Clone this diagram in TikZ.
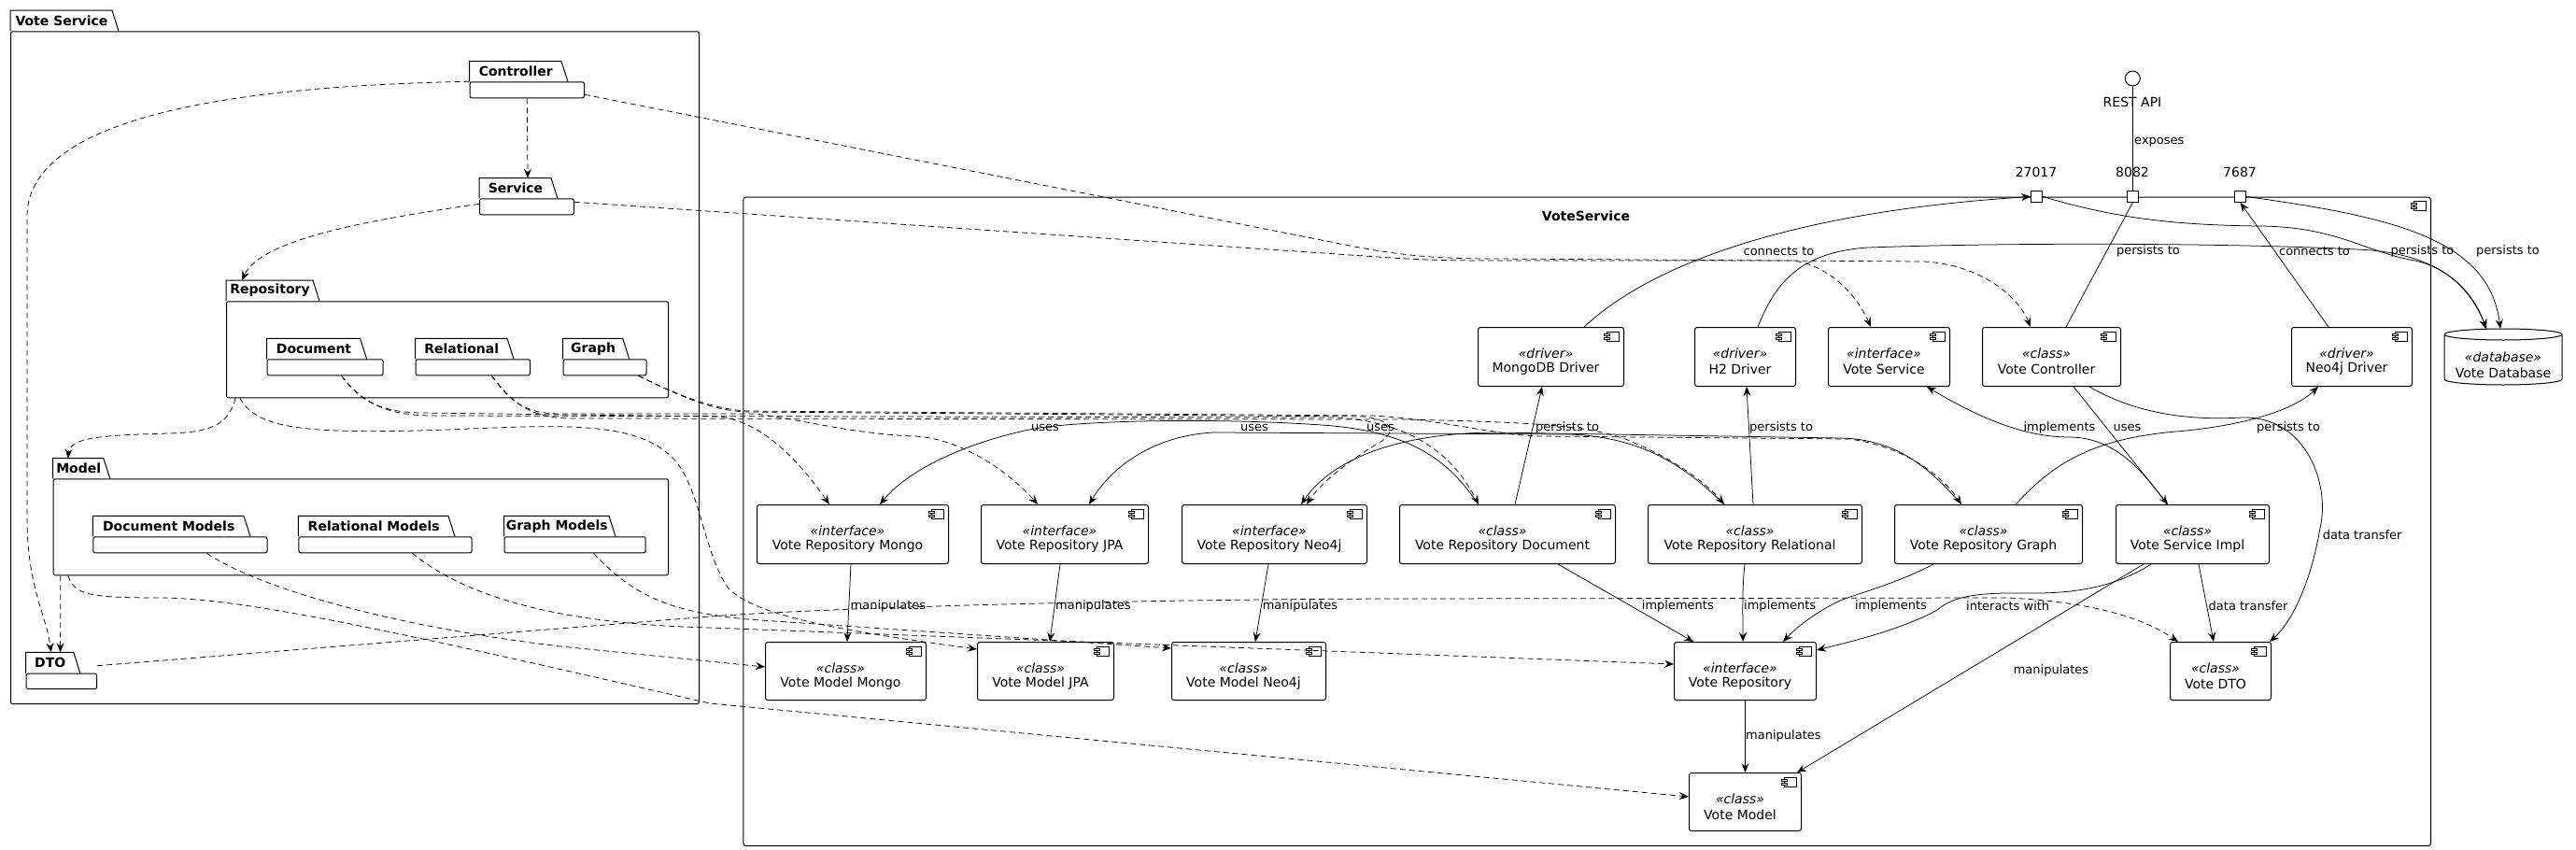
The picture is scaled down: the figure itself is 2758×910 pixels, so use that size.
\documentclass[tikz,border=0pt]{standalone}
\usepackage{fontspec}
\setmainfont{DejaVu Sans}
\usetikzlibrary{arrows.meta}
\tikzset{
  compbox/.style={draw, line width=1pt, rounded corners=2.5pt, inner sep=0pt},
  pkgbox/.style={draw, line width=1pt, rounded corners=2pt, inner sep=0pt},
  pkgtab/.style={line width=1pt},
  pkgtitle/.style={font=\fontsize{14pt}{16pt}\selectfont\bfseries, inner sep=0pt},
  stereo/.style={font=\fontsize{14pt}{16pt}\selectfont\itshape, inner sep=0pt},
  cname/.style={font=\fontsize{14pt}{16pt}\selectfont, inner sep=0pt},
  elabel/.style={font=\fontsize{13pt}{15pt}\selectfont, inner sep=0pt},
  conn/.style={line width=0.75pt, -{Stealth[length=10pt,width=8pt,inset=3.5pt]}},
  lineonly/.style={line width=0.75pt},
  depline/.style={conn, dash pattern=on 6pt off 4pt},
  portbox/.style={draw, fill=white, line width=1pt, minimum size=12pt, inner sep=0pt},
  iconshape/.style={draw, line width=0.75pt, fill=white},
}
\newcommand\UMLicon[2]{%
  \draw[iconshape] ({#1-18},{#2+5}) rectangle ({#1-5},{#2+15});
  \draw[iconshape] ({#1-21},{#2+7}) rectangle ({#1-15},{#2+9});
  \draw[iconshape] ({#1-21},{#2+11}) rectangle ({#1-15},{#2+13});
}
\newcommand\UMLcomp[7]{%
  \node[compbox, minimum width={(#4-#2)*1pt}, minimum height={(#5-#3)*1pt}, anchor=north west] (#1) at (#2,#3) {};
  \node[stereo] at ({(#2+#4)/2-5},{#3+28}) {«#6»};
  \node[cname] at ({(#2+#4)/2-5},{#3+45}) {#7};
  \UMLicon{#4}{#3}
}
\newcommand\UMLpkg[8]{%
  \draw[pkgtab] (#2,#5) |- ({#4-7},#3) -- (#4,#5);
  \coordinate (#1-tab) at (#2,#3);
  \node[pkgbox, minimum width={(#6-#2)*1pt}, minimum height={(#7-#5)*1pt}, anchor=north west] (#1) at (#2,#5) {};
  \node[pkgtitle] at ({(#2+#4)/2-3},{(#3+#5)/2}) {#8};
}
\begin{document}
\begin{tikzpicture}[x=1pt, y=-1pt]
\useasboundingbox (0,0) rectangle (2758,910);
\fill[white] (0,0) rectangle (2758,910);

% ---------- left package ----------
\UMLpkg{vsp}{11}{11}{127}{33.3}{748}{753}{Vote Service}
\UMLpkg{ctrl}{502.6}{65.7}{608}{87.3}{625}{104.3}{Controller}
\UMLpkg{svc}{513}{190.7}{597}{212.3}{614}{229.3}{Service}
\UMLpkg{repo}{242}{300}{342}{322.3}{715}{425.3}{Repository}
\UMLpkg{doc}{285.5}{362.3}{392.6}{384.3}{409.6}{401.3}{Document}
\UMLpkg{rel}{444.5}{362.3}{550}{384.3}{567}{401.3}{Relational}
\UMLpkg{gra}{602.5}{362.3}{673.7}{384.3}{691.6}{401.3}{Graph}
\UMLpkg{model}{56.7}{490.7}{117.8}{512.3}{715}{615.3}{Model}
\UMLpkg{docm}{99.4}{552.3}{268}{574.3}{285.5}{591.3}{Document Models}
\UMLpkg{relm}{319.4}{552.3}{487}{574.3}{504.6}{591.3}{Relational Models}
\UMLpkg{gram}{539.5}{552.3}{659}{574.3}{690.7}{591.3}{Graph Models}
\UMLpkg{dto}{27.6}{698.3}{85.8}{720.7}{103.2}{737}{DTO}

% ---------- VoteService component ----------
\node[compbox, minimum width=1806.6pt, minimum height=694.3pt, anchor=north west] (vsc) at (795.4,210.7) {};
\UMLicon{2602}{210.7}
\node[pkgtitle] at (1698,231) {VoteService};

\UMLcomp{mongodrv}{1582}{350}{1738}{413}{driver}{MongoDB Driver}
\UMLcomp{h2drv}{1814}{350}{1922}{413}{driver}{H2 Driver}
\UMLcomp{vsvc}{1957}{350}{2087}{413}{interface}{Vote Service}
\UMLcomp{vctrl}{2122}{350}{2270}{413}{class}{Vote Controller}
\UMLcomp{neodrv}{2453}{350}{2582}{413}{driver}{Neo4j Driver}

\UMLcomp{rmongo}{810}{540}{1015}{603}{interface}{Vote Repository Mongo}
\UMLcomp{rjpa}{1050}{540}{1229}{603}{interface}{Vote Repository JPA}
\UMLcomp{rneo}{1265}{540}{1463}{603}{interface}{Vote Repository Neo4j}
\UMLcomp{rdoc}{1498}{540}{1729}{603}{class}{Vote Repository Document}
\UMLcomp{rrel}{1764}{540}{1993}{603}{class}{Vote Repository Relational}
\UMLcomp{rgra}{2028}{540}{2229}{603}{class}{Vote Repository Graph}
\UMLcomp{vimpl}{2265}{540}{2429}{603}{class}{Vote Service Impl}

\UMLcomp{mmongo}{819}{687}{991}{749}{class}{Vote Model Mongo}
\UMLcomp{mjpa}{1046}{687}{1192}{749}{class}{Vote Model JPA}
\UMLcomp{mneo}{1254}{687}{1419}{749}{class}{Vote Model Neo4j}
\UMLcomp{vrepo}{1792}{687}{1944}{749}{interface}{Vote Repository}
\UMLcomp{vdto}{2323}{687}{2431}{749}{class}{Vote DTO}
\UMLcomp{vmodel}{1808}{827}{1928}{889}{class}{Vote Model}

% ports, interface, database
\node[portbox] (p27017) at (2180.6,210.5) {};
\node[portbox] (p8082) at (2283.3,210.5) {};
\node[portbox] (p7687) at (2398.6,210.5) {};
\node[cname] at (2180,184) {27017};
\node[cname] at (2283,184) {8082};
\node[cname] at (2398,184) {7687};
\node[draw, circle, line width=1pt, minimum size=16pt, inner sep=0pt] (rest) at (2283.3,84) {};
\node[cname] at (2283,109) {REST API};

\node[inner sep=0pt, minimum width=126pt, minimum height=60pt, anchor=north west] (db) at (2617,352) {};
\draw[line width=1pt] (2617,358) -- (2617,406) arc[start angle=180, end angle=360, x radius=63pt, y radius=6pt] -- (2743,358) arc[start angle=0, end angle=180, x radius=63pt, y radius=6pt];
\draw[line width=1pt] (2617,358) arc[start angle=180, end angle=360, x radius=63pt, y radius=6pt];
\node[stereo] at (2680,382.7) {«database»};
\node[cname] at (2680,399) {Vote Database};

% ---------- solid connectors ----------
\draw[lineonly] (rest.south) -- (p8082.north);
\node[elabel, anchor=west] at (2285,152.7) {exposes};
\draw[lineonly] ([xshift=90pt]vctrl.north west) -- (p8082.south);
\draw[conn] ([xshift=114pt]mongodrv.north west) .. controls (1760,290) and (1900,228) .. (p27017.west);
\node[elabel] at (1904.5,269) {connects to};
\draw[conn] ([xshift=68pt]h2drv.north west) .. controls (1900,305) and (1925,270) .. (2000,265) .. controls (2200,258) and (2450,262) .. (2540,268) .. controls (2610,275) and (2645,305) .. ([xshift=45pt]db.north west);
\node[elabel] at (2300,269) {persists to};
\draw[conn] ([xshift=40pt]neodrv.north west) -- (p7687.south);
\node[elabel] at (2478,269) {connects to};
\draw[conn] (p27017.east) .. controls (2260,232) and (2320,241) .. (2420,242) .. controls (2500,243) and (2530,268) .. (2580,278) .. controls (2625,285) and (2650,320) .. ([xshift=45pt]db.north west);
\node[elabel] at (2593.5,269) {persists to};
\draw[conn] (p7687.east) .. controls (2560,232) and (2665,255) .. ([xshift=60pt]db.north west);
\node[elabel] at (2685,269) {persists to};

\draw[conn] ([xshift=98pt]vctrl.south west) -- ([xshift=56pt]vimpl.north west);
\node[elabel] at (2277.6,458) {uses};
\draw[conn] ([xshift=55pt]vimpl.north west) .. controls (2295,505) and (2265,468) .. (2215,468) .. controls (2165,468) and (2115,445) .. ([xshift=106pt]vsvc.south west);
\node[elabel] at (2205,458) {implements};
\draw[conn] ([xshift=115pt]vctrl.south west) .. controls (2290,445) and (2350,450) .. (2400,447) .. controls (2470,445) and (2495,520) .. (2484,565) .. controls (2475,620) and (2455,665) .. ([xshift=-2pt]vdto.north east);
\node[elabel, anchor=west] at (2486.6,572.7) {data transfer};
\draw[conn] ([xshift=130pt]rgra.north west) .. controls (2195,500) and (2235,470) .. (2330,462) .. controls (2400,456) and (2455,440) .. ([xshift=29pt]neodrv.south west);
\node[elabel, anchor=west] at (2416,458) {persists to};
\draw[conn] ([xshift=38pt]vimpl.south west) .. controls (2270,625) and (2230,636) .. (2170,635) .. controls (2110,634) and (2090,640) .. (2074,653) .. controls (2040,672) and (1990,685) .. ([yshift=-9pt]vrepo.north east);
\node[elabel, anchor=west] at (2105,649) {interacts with};
\draw[conn] ([xshift=30pt]vimpl.south west) -- ([xshift=-5pt]vmodel.north east);
\node[elabel] at (2196,718) {manipulates};
\draw[conn] ([xshift=89pt]vimpl.south west) -- ([xshift=47pt]vdto.north west);
\node[elabel, anchor=west] at (2364.5,648.3) {data transfer};

\draw[conn] ([xshift=170pt]rdoc.south west) -- ([xshift=21pt]vrepo.north west);
\node[elabel, anchor=west] at (1757.7,649) {implements};
\draw[conn] ([xshift=104pt]rrel.south west) .. controls (1865,630) and (1866,660) .. ([xshift=74pt]vrepo.north west);
\node[elabel, anchor=west] at (1867,649) {implements};
\draw[conn] ([xshift=42pt]rgra.south west) .. controls (2030,625) and (1990,635) .. (1970,643) .. controls (1945,655) and (1925,670) .. ([xshift=117pt]vrepo.north west);
\node[elabel, anchor=west] at (1985.8,649) {implements};
\draw[conn] (vrepo.south) -- (vmodel.north);
\node[elabel, anchor=west] at (1869,788) {manipulates};

\draw[conn] ([xshift=101pt]rmongo.south west) -- ([xshift=88pt]mmongo.north west);
\node[elabel, anchor=west] at (910.5,649) {manipulates};
\draw[conn] ([xshift=85pt]rjpa.south west) -- ([xshift=78pt]mjpa.north west);
\node[elabel, anchor=west] at (1130,649) {manipulates};
\draw[conn] ([xshift=93pt]rneo.south west) -- ([xshift=90pt]mneo.north west);
\node[elabel, anchor=west] at (1351.6,649) {manipulates};

\draw[conn] ([xshift=124pt]rdoc.north west) -- ([xshift=69pt]mongodrv.south west);
\node[elabel, anchor=west] at (1644,458) {persists to};
\draw[conn] ([xshift=113pt]rrel.north west) -- ([xshift=56pt]h2drv.south west);
\node[elabel, anchor=west] at (1873,458) {persists to};

\draw[conn] ([xshift=85pt]rdoc.north west) .. controls (1555,500) and (1520,462) .. (1415,455) .. controls (1300,447) and (1150,450) .. (1102,460) .. controls (1040,473) and (975,500) .. ([xshift=132pt]rmongo.north west);
\node[elabel] at (1119,458) {uses};
\draw[conn] ([xshift=82pt]rrel.north west) .. controls (1805,500) and (1760,468) .. (1680,465) -- (1300,463) .. controls (1235,466) and (1190,500) .. ([xshift=116pt]rjpa.north west);
\node[elabel] at (1343,458) {uses};
\draw[conn] ([xshift=72pt]rgra.north west) .. controls (2065,500) and (2030,470) .. (1970,469) -- (1600,463) .. controls (1480,464) and (1420,500) .. ([xshift=128pt]rneo.north west);
\node[elabel] at (1478,458) {uses};

% ---------- dashed dependencies ----------
\draw[depline] (ctrl.south) -- ([xshift=52pt]svc-tab);
\draw[depline] (ctrl.north west) .. controls (250,92) and (32,125) .. (29,230) -- (29,560) .. controls (30,630) and (50,660) .. ([xshift=27pt]dto-tab);
\draw[depline] ([xshift=8pt]model.south west) -- ([xshift=37pt]dto-tab);
\draw[depline] ([yshift=-6pt]svc.north west) .. controls (400,235) and (280,255) .. ([xshift=17pt]repo-tab);
\draw[depline] ([xshift=10pt]repo.south west) .. controls (245,455) and (225,463) .. (180,464) .. controls (110,466) and (75,468) .. ([xshift=16pt]model-tab);
\draw[depline] ([yshift=-14pt]ctrl.north east) -- (1440,262) .. controls (1500,274) and (1540,277) .. (1600,277) -- (2060,280) .. controls (2125,284) and (2162,320) .. ([xshift=52pt]vctrl.north west);
\draw[depline] ([yshift=-4pt]svc.north east) -- (1490,276) .. controls (1520,278) and (1550,279) .. (1600,279) -- (1920,279) .. controls (1962,285) and (1990,320) .. ([xshift=46pt]vsvc.north west);
\draw[depline] ([xshift=80pt]doc.south west) .. controls (385,428) and (405,441) .. (450,442) -- (770,446) .. controls (820,452) and (860,500) .. ([xshift=78pt]rmongo.north west);
\draw[depline] ([xshift=80pt]doc.south west) .. controls (388,430) and (410,444) .. (460,445) -- (1430,447) .. controls (1520,452) and (1560,495) .. ([xshift=85pt]rdoc.north west);
\draw[depline] ([xshift=82pt]rel.south west) .. controls (545,428) and (560,443) .. (600,443) -- (810,443) .. controls (870,452) and (920,465) .. (980,467) .. controls (1030,470) and (1080,505) .. ([xshift=61pt]rjpa.north west);
\draw[depline] ([xshift=82pt]rel.south west) .. controls (548,430) and (565,447) .. (610,448) -- (1500,449) .. controls (1650,452) and (1700,456) .. (1740,470) .. controls (1790,490) and (1825,515) .. ([xshift=82pt]rrel.north west);
\draw[depline] ([xshift=81pt]gra.south west) .. controls (720,420) and (760,440) .. (800,441) -- (1460,446) .. controls (1490,450) and (1495,460) .. (1480,472) .. controls (1440,495) and (1412,520) .. ([xshift=134pt]rneo.north west);
\draw[depline] ([xshift=81pt]gra.south west) .. controls (720,420) and (760,438) .. (800,440) -- (1470,445) .. controls (1550,450) and (1600,466) .. (1650,467) -- (1980,470) .. controls (2040,478) and (2080,510) .. ([xshift=72pt]rgra.north west);
\draw[depline] ([xshift=15pt]repo.south west) .. controls (275,460) and (330,465) .. (480,460) .. controls (600,455) and (680,450) .. (720,490) .. controls (750,520) and (752,590) .. (780,630) .. controls (810,660) and (900,675) .. ([yshift=-8pt]mjpa.north west);
\draw[depline] ([xshift=16pt]model.south west) .. controls (80,636) and (92,640) .. (170,640) .. controls (260,640) and (420,675) .. (760,753) -- ([yshift=-26pt]vmodel.north west);
\draw[depline] ([xshift=122pt]docm.south west) .. controls (270,625) and (400,668) .. (600,692) -- ([yshift=-27pt]mmongo.north west);
\draw[depline] ([xshift=122pt]relm.south west) .. controls (500,640) and (600,668) .. (760,672) -- ([yshift=-24pt]vrepo.north west);
\draw[depline] ([xshift=96pt]gram.south west) .. controls (680,640) and (720,655) .. (800,663) -- ([yshift=-7pt]mneo.north west);
\draw[depline] ([yshift=8pt]dto.north east) -- (760,660) .. controls (900,650) and (1200,642) .. (1490,641) -- (2150,640) .. controls (2250,645) and (2300,665) .. ([xshift=9pt]vdto.north west);
\end{tikzpicture}
\end{document}
